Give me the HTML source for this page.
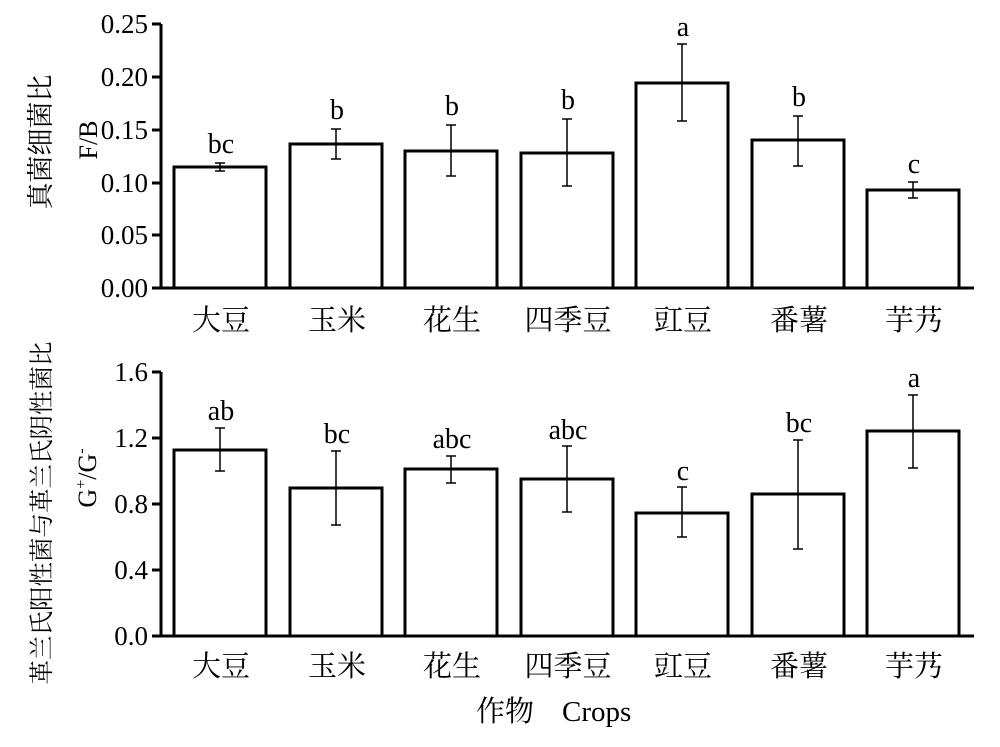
<!DOCTYPE html>
<html><head><meta charset="utf-8"><style>
html,body{margin:0;padding:0;background:#fff;}
svg text{font-family:"Liberation Serif","Noto Serif CJK SC","Noto Sans CJK SC",serif;fill:#000;}
.cj{font-family:"Noto Serif CJK SC","Noto Sans CJK SC",serif;}
</style></head><body>
<svg width="1000" height="742" viewBox="0 0 1000 742" xmlns="http://www.w3.org/2000/svg">
<g stroke="#000" fill="none" stroke-width="3">
<path d="M161 24 V289 M152 288 H974"/>
<path d="M152 24 H161 M152 77 H161 M152 130 H161 M152 183 H161 M152 235 H161"/>
<path d="M161 372 V637 M152 636 H974"/>
<path d="M152 372 H161 M152 438 H161 M152 504 H161 M152 570 H161"/>
<rect x="174" y="167" width="92" height="121"/>
<rect x="290" y="144" width="92" height="144"/>
<rect x="405" y="151" width="92" height="137"/>
<rect x="521" y="153" width="92" height="135"/>
<rect x="636" y="83" width="92" height="205"/>
<rect x="752" y="140" width="92" height="148"/>
<rect x="867" y="190" width="92" height="98"/>
<rect x="174" y="450" width="92" height="186"/>
<rect x="290" y="488" width="92" height="148"/>
<rect x="405" y="469" width="92" height="167"/>
<rect x="521" y="479" width="92" height="157"/>
<rect x="636" y="513" width="92" height="123"/>
<rect x="752" y="494" width="92" height="142"/>
<rect x="867" y="431" width="92" height="205"/>
</g>
<g stroke="#000" fill="none" stroke-width="1.5">
<path d="M220 163V171M215 163H225M215 171H225"/>
<path d="M336 129V159M331 129H341M331 159H341"/>
<path d="M451 125V176M446 125H456M446 176H456"/>
<path d="M567 119V186M562 119H572M562 186H572"/>
<path d="M682 44V121M677 44H687M677 121H687"/>
<path d="M798 116V166M793 116H803M793 166H803"/>
<path d="M913 182V198M908 182H918M908 198H918"/>
<path d="M220 428V471M215 428H225M215 471H225"/>
<path d="M336 451V525M331 451H341M331 525H341"/>
<path d="M451 456V483M446 456H456M446 483H456"/>
<path d="M567 446V512M562 446H572M562 512H572"/>
<path d="M682 487V537M677 487H687M677 537H687"/>
<path d="M798 440V549M793 440H803M793 549H803"/>
<path d="M913 395V468M908 395H918M908 468H918"/>
</g>
<g font-size="28" text-anchor="middle">
<text x="221" y="153">bc</text><text x="337" y="119">b</text><text x="452" y="115">b</text>
<text x="568" y="109">b</text><text x="683" y="36">a</text><text x="799" y="106">b</text><text x="914" y="173">c</text>
<text x="221" y="420">ab</text><text x="337" y="443">bc</text><text x="452" y="448">abc</text>
<text x="568" y="439">abc</text><text x="683" y="480">c</text><text x="799" y="432">bc</text><text x="914" y="387">a</text>
</g>
<g font-size="27" text-anchor="end">
<text x="148" y="33">0.25</text><text x="148" y="86">0.20</text><text x="148" y="139">0.15</text>
<text x="148" y="192">0.10</text><text x="148" y="244">0.05</text><text x="148" y="297">0.00</text>
<text x="148" y="381">1.6</text><text x="148" y="447">1.2</text><text x="148" y="513">0.8</text>
<text x="148" y="579">0.4</text><text x="148" y="645">0.0</text>
</g>
<g font-size="29" text-anchor="middle" class="cj">
<text x="221" y="330">大豆</text><text x="337" y="330">玉米</text><text x="452" y="330">花生</text>
<text x="568" y="330">四季豆</text><text x="683" y="330">豇豆</text><text x="799" y="330">番薯</text><text x="914" y="330">芋艿</text>
<text x="221" y="676">大豆</text><text x="337" y="676">玉米</text><text x="452" y="676">花生</text>
<text x="568" y="676">四季豆</text><text x="683" y="676">豇豆</text><text x="799" y="676">番薯</text><text x="914" y="676">芋艿</text>
</g>
<text x="476" y="721" font-size="29"><tspan class="cj">作物</tspan><tspan x="562">Crops</tspan></text>
<text transform="translate(50,142) rotate(-90)" font-size="27" text-anchor="middle" class="cj">真菌细菌比</text>
<text transform="translate(97,140) rotate(-90)" font-size="26" text-anchor="middle">F/B</text>
<text transform="translate(50,513) rotate(-90)" font-size="24.5" text-anchor="middle" class="cj">革兰氏阳性菌与革兰氏阴性菌比</text>
<text transform="translate(96,478) rotate(-90)" font-size="26" text-anchor="middle">G<tspan font-size="16" dy="-10">+</tspan><tspan dy="10">/G</tspan><tspan font-size="16" dy="-10">-</tspan></text>
</svg>
</body></html>
